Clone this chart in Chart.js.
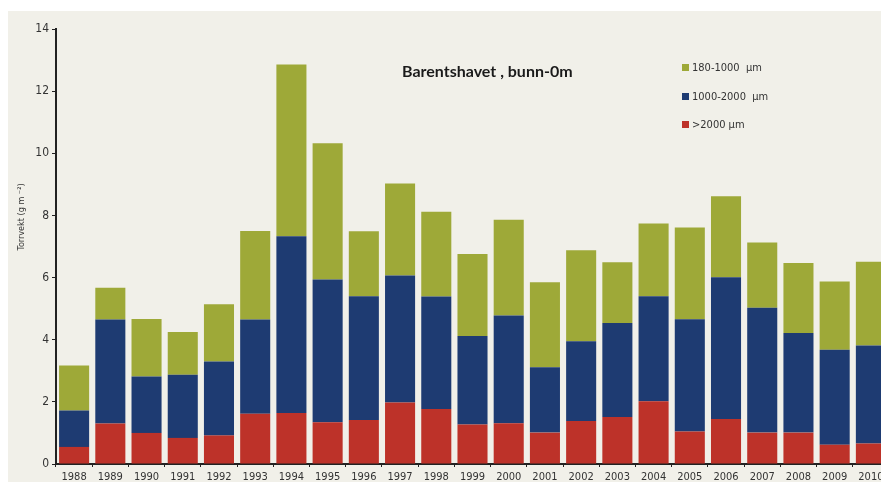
<!DOCTYPE html>
<html>
<head>
<meta charset="utf-8">
<script src="https://cdn.jsdelivr.net/npm/chart.js@4"></script>
<style>
html, body { margin: 0; padding: 0; background: #fff; overflow: hidden; width: 881px; height: 482px; }
#panel { position: absolute; left: 8px; top: 11px; width: 873px; height: 471px; background: #f1f0e9; }
#wrap { position: absolute; left: 0; top: 0; width: 890px; height: 490px; }
</style>
</head>
<body>
<div id="panel"></div>
<div id="wrap"><canvas id="chart"></canvas></div>
<script>
// data (g m-2), stacked from the bottom
const years = ['1988','1989','1990','1991','1992','1993','1994','1995','1996','1997','1998','1999',
               '2000','2001','2002','2003','2004','2005','2006','2007','2008','2009','2010'];
const over2000 = [0.55,1.30,1.00,0.84,0.92,1.62,1.64,1.34,1.42,1.98,1.77,1.27,1.31,1.01,1.38,1.51,2.02,1.05,1.45,1.01,1.01,0.62,0.66];
const mid1000 = [1.17,3.35,1.82,2.03,2.38,3.03,5.69,4.60,3.98,4.09,3.62,2.85,3.47,2.10,2.57,3.03,3.38,3.61,4.56,4.02,3.21,3.06,3.15];
const small180 = [1.45,1.02,1.85,1.38,1.84,2.85,5.53,4.38,2.09,2.96,2.73,2.64,3.08,2.74,2.93,1.95,2.34,2.95,2.61,2.10,2.25,2.19,2.70];
const seriesNames = ['>2000 µm', '1000-2000  µm', '180-1000  µm'];
const seriesColors = ['#bd3229', '#1e3b72', '#9ea938'];
const yTicks = [0, 2, 4, 6, 8, 10, 12, 14];

const chartTitle = 'Barentshavet , bunn-0m';
const yTitle = 'Torrvekt (g m ⁻²)';

const narrow = "'Liberation Sans Narrow', 'DejaVu Sans Condensed', sans-serif";

// title, legend and axis title drawn on top of the chart
const overlay = {
  id: 'overlay',
  afterDraw(chart) {
    const ctx = chart.ctx;
    ctx.save();
    ctx.fillStyle = '#1a1a1a';
    ctx.font = "bold 16px Lato, 'Open Sans', sans-serif";
    ctx.textBaseline = 'middle';
    ctx.textAlign = 'left';
    ctx.fillText(chartTitle, 402, 72);

    // legend, top to bottom: last dataset first
    const ds = chart.data.datasets.slice().reverse();
    const rows = [68, 97, 125];
    ctx.font = "11px " + narrow;
    ds.forEach((d, i) => {
      ctx.fillStyle = d.backgroundColor;
      ctx.fillRect(682, rows[i] - 4, 7, 7);
      ctx.fillStyle = '#333';
      ctx.fillText(d.label, 692, rows[i]);
    });

    ctx.translate(22, 217);
    ctx.rotate(-Math.PI / 2);
    ctx.textAlign = 'center';
    ctx.font = "9px " + narrow;
    ctx.fillStyle = '#333';
    ctx.fillText(yTitle, 0, 0);
    ctx.restore();
  }
};

const ctx = document.getElementById('chart').getContext('2d');
new Chart(ctx, {
  type: 'bar',
  data: {
    labels: years,
    datasets: [
      { label: seriesNames[0], data: over2000, backgroundColor: seriesColors[0] },
      { label: seriesNames[1], data: mid1000, backgroundColor: seriesColors[1] },
      { label: seriesNames[2], data: small180, backgroundColor: seriesColors[2] }
    ]
  },
  options: {
    responsive: true,
    maintainAspectRatio: false,
    animation: false,
    barPercentage: 0.83,
    categoryPercentage: 1.0,
    layout: { padding: { top: 29, left: 0, right: 1, bottom: 0 } },
    plugins: {
      legend: { display: false },
      tooltip: { enabled: false }
    },
    scales: {
      x: {
        stacked: true,
        grid: { drawOnChartArea: false, tickLength: 3, color: '#222', offset: true },
        border: { color: '#222', width: 2 },
        ticks: { color: '#333', padding: 4, maxRotation: 0, autoSkip: false, font: { family: narrow, size: 11 } },
        afterFit(scale) { scale.height = 26; }
      },
      y: {
        stacked: true,
        min: 0,
        max: 14,
        afterBuildTicks(scale) { scale.ticks = yTicks.map(v => ({ value: v })); },
        grid: { drawOnChartArea: false, tickLength: 4, color: '#222' },
        border: { color: '#222', width: 2 },
        ticks: { color: '#333', padding: 3, font: { family: narrow, size: 12 } },
        afterFit(scale) { scale.width = 56; }
      }
    }
  },
  plugins: [overlay]
});
</script>
</body>
</html>
